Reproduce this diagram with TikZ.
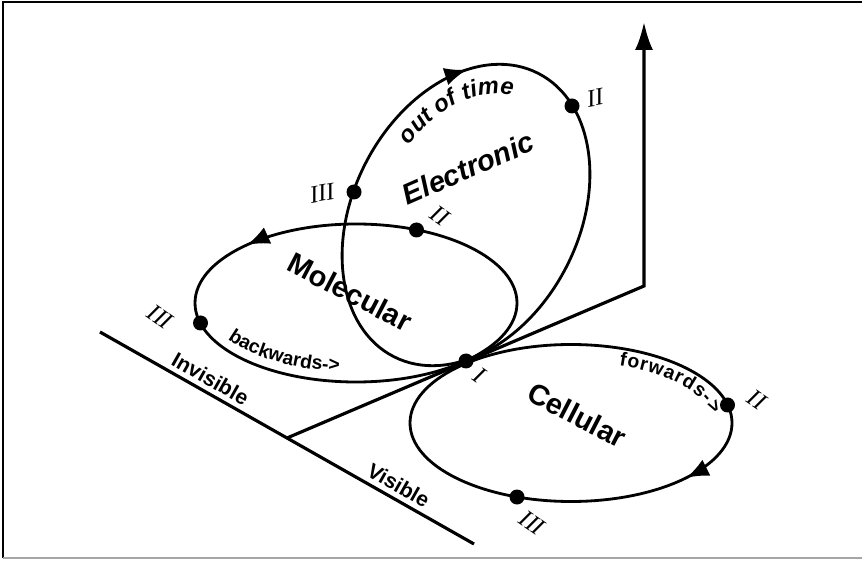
\documentclass[tikz,border=0pt]{standalone}
\usepackage{fontspec}
\usetikzlibrary{calc,arrows.meta,decorations.markings,decorations.text}
\newfontfamily\labelfont{Liberation Sans}
\newfontfamily\numfont{Liberation Serif}
\newcommand{\curvefont}{\labelfont\bfseries\fontsize{11}{13}\selectfont}
\newcommand{\timefont}{\labelfont\bfseries\itshape\fontsize{13.5}{15}\selectfont}
\tikzset{orbit/.style={black, line width=1.6pt},
         axisline/.style={black, line width=1.8pt},
         dot/.style={circle, fill=black, inner sep=0pt, minimum size=3mm},
         num/.style={font=\numfont\itshape\fontsize{14}{16}\selectfont, inner sep=1pt},
         bigname/.style={font=\labelfont\bfseries\fontsize{16.5}{19}\selectfont},
         sidename/.style={font=\labelfont\bfseries\fontsize{12}{14}\selectfont, rotate=-29.6, anchor=south}}

\begin{document}
\begin{tikzpicture}
   \useasboundingbox (0,0) rectangle (17.24,11.2);
   \draw[black, line width=1.2pt] (0.06,0.04) -- (0.06,11.16) -- (17.24,11.16);
   \draw[gray!70, line width=1pt] (0.06,0.04) -- (17.24,0.04);
   % axes
   \coordinate (base1) at (2.00,4.56);
   \coordinate (base2) at (9.48,0.32);
   \coordinate (foot) at ($(base1)!0.5!(base2)$);
   \coordinate (bend) at (12.88,5.48);
   \coordinate (top) at (12.88,10.76);
   \draw[axisline] (base1) -- (base2);
   \draw[axisline, -{Latex[length=5.6mm,width=3.6mm]}] (foot) -- (bend) -- (top);
   \node[sidename] (inv) at ($(base1)!0.277!(base2)$) {Invisible};
   \node[sidename] (vis) at ($(base1)!0.78!(base2)$) {Visible};
   % loops
   \begin{scope}[shift={(9.32,6.90)},rotate=-27]
    \draw[orbit, postaction={decorate}, decoration={markings,
          mark=at position 0.335 with {\arrowreversed{Latex[length=4.5mm,width=3.6mm]}}}]
          (0,0) ellipse [x radius=2.26, y radius=3.18];
    \path[decorate, decoration={text along path, text={|\timefont|out of time}, text align=center}]
          (168:1.72 and 2.58) arc[start angle=168, end angle=92, x radius=1.72, y radius=2.58];
   \end{scope}
   \begin{scope}[shift={(7.12,5.14)}]
    \draw[orbit, postaction={decorate}, decoration={markings,
          mark=at position 0.394 with {\arrow{Latex[length=4.5mm,width=3.6mm]}}}]
          (0,0) ellipse [x radius=3.22, y radius=1.58];
    \path[decorate, decoration={text along path, text={|\curvefont|backwards->}, text align=center}]
          (205:3.02 and 1.38) arc[start angle=205, end angle=268, x radius=3.02, y radius=1.38];
   \end{scope}
   \begin{scope}[shift={(11.42,2.74)}]
    \draw[orbit, postaction={decorate}, decoration={markings,
          mark=at position 0.903 with {\arrowreversed{Latex[length=4.5mm,width=3.6mm]}}}]
          (0,0) ellipse [x radius=3.22, y radius=1.57];
    \path[decorate, decoration={text along path, text={|\curvefont|forwards->}, text align=fit to path}]
          (70:2.82 and 1.22) arc[start angle=70, end angle=8, x radius=2.82, y radius=1.22];
   \end{scope}
   % names
   \node[bigname, font=\labelfont\bfseries\itshape\fontsize{16.5}{19}\selectfont, rotate=23.6] (elec) at (9.36,7.84) {Electronic};
   \node[bigname, rotate=-27.5] (mol) at (7.00,5.36) {Molecular};
   \node[bigname, rotate=-27.3] (cell) at (11.54,2.90) {Cellular};
   % points
   \node[dot] (I) at (9.32,3.98) {};
   \node[dot] (e2) at (11.44,9.08) {};
   \node[dot] (e3) at (7.08,7.36) {};
   \node[dot] (m2) at (8.33,6.60) {};
   \node[dot] (m3) at (4.01,4.74) {};
   \node[dot] (c2) at (14.55,3.10) {};
   \node[dot] (c3) at (10.34,1.26) {};
   \node[num, rotate=-35] (Il) at (9.58,3.70) {I};
   \node[num, rotate=10] (e2l) at (11.90,9.24) {II};
   \node[num, rotate=10] (e3l) at (6.44,7.34) {III};
   \node[num, rotate=-35] (m2l) at (8.80,6.88) {II};
   \node[num, rotate=-35] (m3l) at (3.20,4.86) {III};
   \node[num, rotate=-35] (c2l) at (15.14,3.20) {II};
   \node[num, rotate=-35] (c3l) at (10.64,0.74) {III};
\end{tikzpicture}
\end{document}
